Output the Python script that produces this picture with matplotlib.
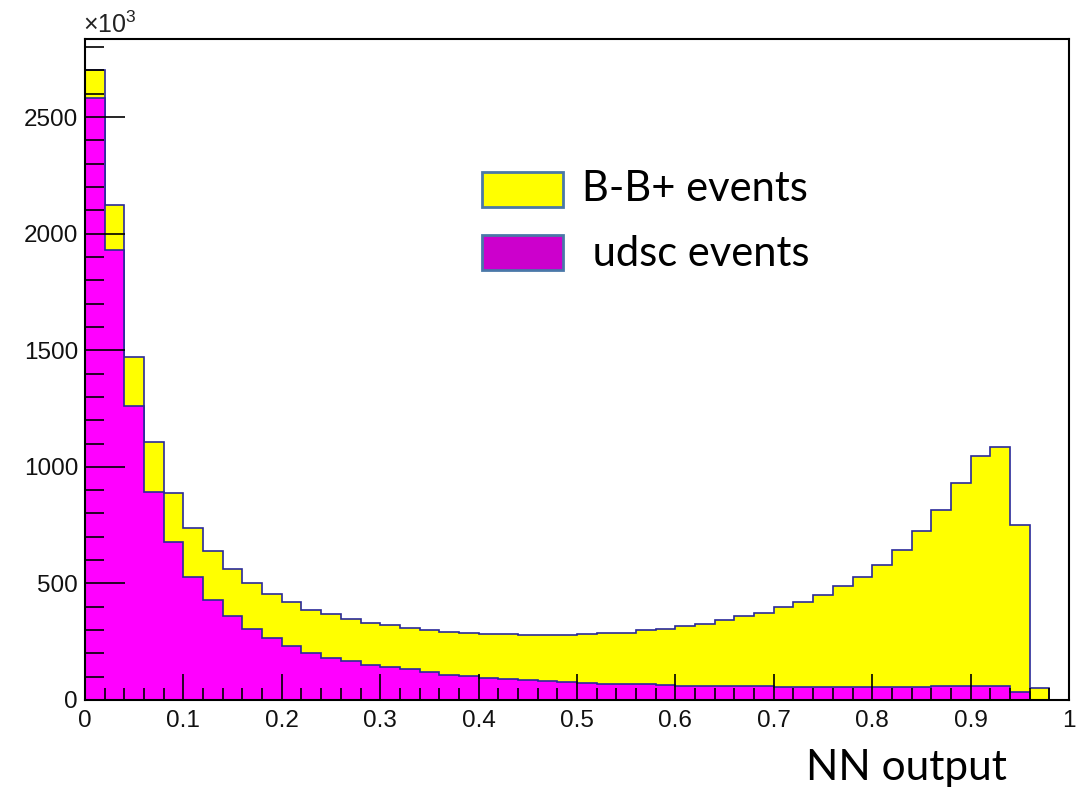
import numpy as np
import matplotlib
matplotlib.use("Agg")
import matplotlib.pyplot as plt
from matplotlib.patches import Rectangle
from matplotlib.ticker import MultipleLocator

# Bin edges: 50 bins of width 0.02 on NN output [0, 1]
edges = np.linspace(0.0, 1.0, 51)

# B-B+ events (counts, x10^3)
bb_events = [2700, 2122, 1469, 1106, 887, 737, 640, 561, 502, 455,
             419, 388, 368, 346, 330, 322, 310, 300, 292, 288,
             285, 285, 280, 280, 280, 285, 289, 289, 299, 305,
             318, 328, 342, 359, 373, 399, 421, 452, 488, 529,
             581, 645, 724, 815, 931, 1046, 1086, 752, 50, 0]

# udsc events (counts, x10^3)
udsc_events = [2580, 1930, 1259, 894, 677, 529, 431, 359, 306, 265,
               233, 203, 182, 166, 150, 140, 133, 121, 109, 102,
               96, 91, 86, 82, 77, 73, 70, 67, 67, 64,
               61, 60, 59, 58, 58, 57, 57, 57, 57, 57,
               57, 57, 57, 58, 62, 62, 62, 36, 0, 0]

legend_labels = ["B-B+ events", " udsc events"]
x_label = "NN output"

W, H = 1086, 790
fig = plt.figure(figsize=(W / 100, H / 100), dpi=100)
ax = fig.add_axes([85 / W, 1 - 700 / H, (1069 - 85) / W, (700 - 39) / H])

plt.rcParams['mathtext.fontset'] = 'custom'
plt.rcParams['mathtext.rm'] = 'Liberation Sans'

line_col = '#2a2a9a'
ax.stairs(bb_events, edges, fill=True, facecolor='#ffff00', edgecolor='none')
ax.stairs(bb_events, edges, color=line_col, lw=1.2)
ax.stairs(udsc_events, edges, fill=True, facecolor='#ff00ff', edgecolor='none')
ax.stairs(udsc_events, edges, color=line_col, lw=1.2)

ax.set_xlim(0, 1)
ax.set_ylim(0, 2835)

ax.xaxis.set_major_locator(MultipleLocator(0.1))
ax.xaxis.set_minor_locator(MultipleLocator(0.02))
ax.yaxis.set_major_locator(MultipleLocator(500))
ax.yaxis.set_minor_locator(MultipleLocator(100))

ax.tick_params(axis='both', which='both', direction='in', color='black', width=1.2)
ax.tick_params(axis='x', which='major', length=19, pad=7)
ax.tick_params(axis='x', which='minor', length=9)
ax.tick_params(axis='y', which='major', length=29, pad=5)
ax.tick_params(axis='y', which='minor', length=14)

xt = np.round(np.arange(0, 1.01, 0.1), 1)
ax.set_xticks(xt)
ax.set_xticklabels(['0' if v == 0 else ('1' if v == 1 else f'{v:.1f}') for v in xt],
                   fontfamily='Liberation Sans', fontsize=17.5, color='#111111')
yt = np.arange(0, 2501, 500)
ax.set_yticks(yt)
ax.set_yticklabels([str(v) for v in yt], fontfamily='Liberation Sans', fontsize=17.5, color='#111111')

for s in ax.spines.values():
    s.set_linewidth(1.5)
    s.set_color('black')

fig.text(83 / W, 1 - 25 / H, r'$\times10^{3}$', fontsize=18, color='#222222',
         va='center', ha='left')

# Legend (manual)
box_w = (563 - 482) / W
box_h = 35 / H
fig.add_artist(Rectangle((482 / W, 1 - 207 / H), box_w, box_h, transform=fig.transFigure,
                         facecolor='#ffff00', edgecolor='#4a78a8', lw=2))
fig.add_artist(Rectangle((482 / W, 1 - 270 / H), box_w, box_h, transform=fig.transFigure,
                         facecolor='#cc00cc', edgecolor='#4a78a8', lw=2))
fig.text(582 / W, 1 - 189 / H, legend_labels[0], fontfamily='Lato', fontsize=30,
         va='center', ha='left', color='black')
fig.text(582 / W, 1 - 254 / H, legend_labels[1], fontfamily='Lato', fontsize=30,
         va='center', ha='left', color='black')

fig.text(906 / W, 1 - 768 / H, x_label, fontfamily='Lato', fontsize=30.5,
         va='center', ha='center', color='black')

fig.savefig('out.png', dpi=100)
